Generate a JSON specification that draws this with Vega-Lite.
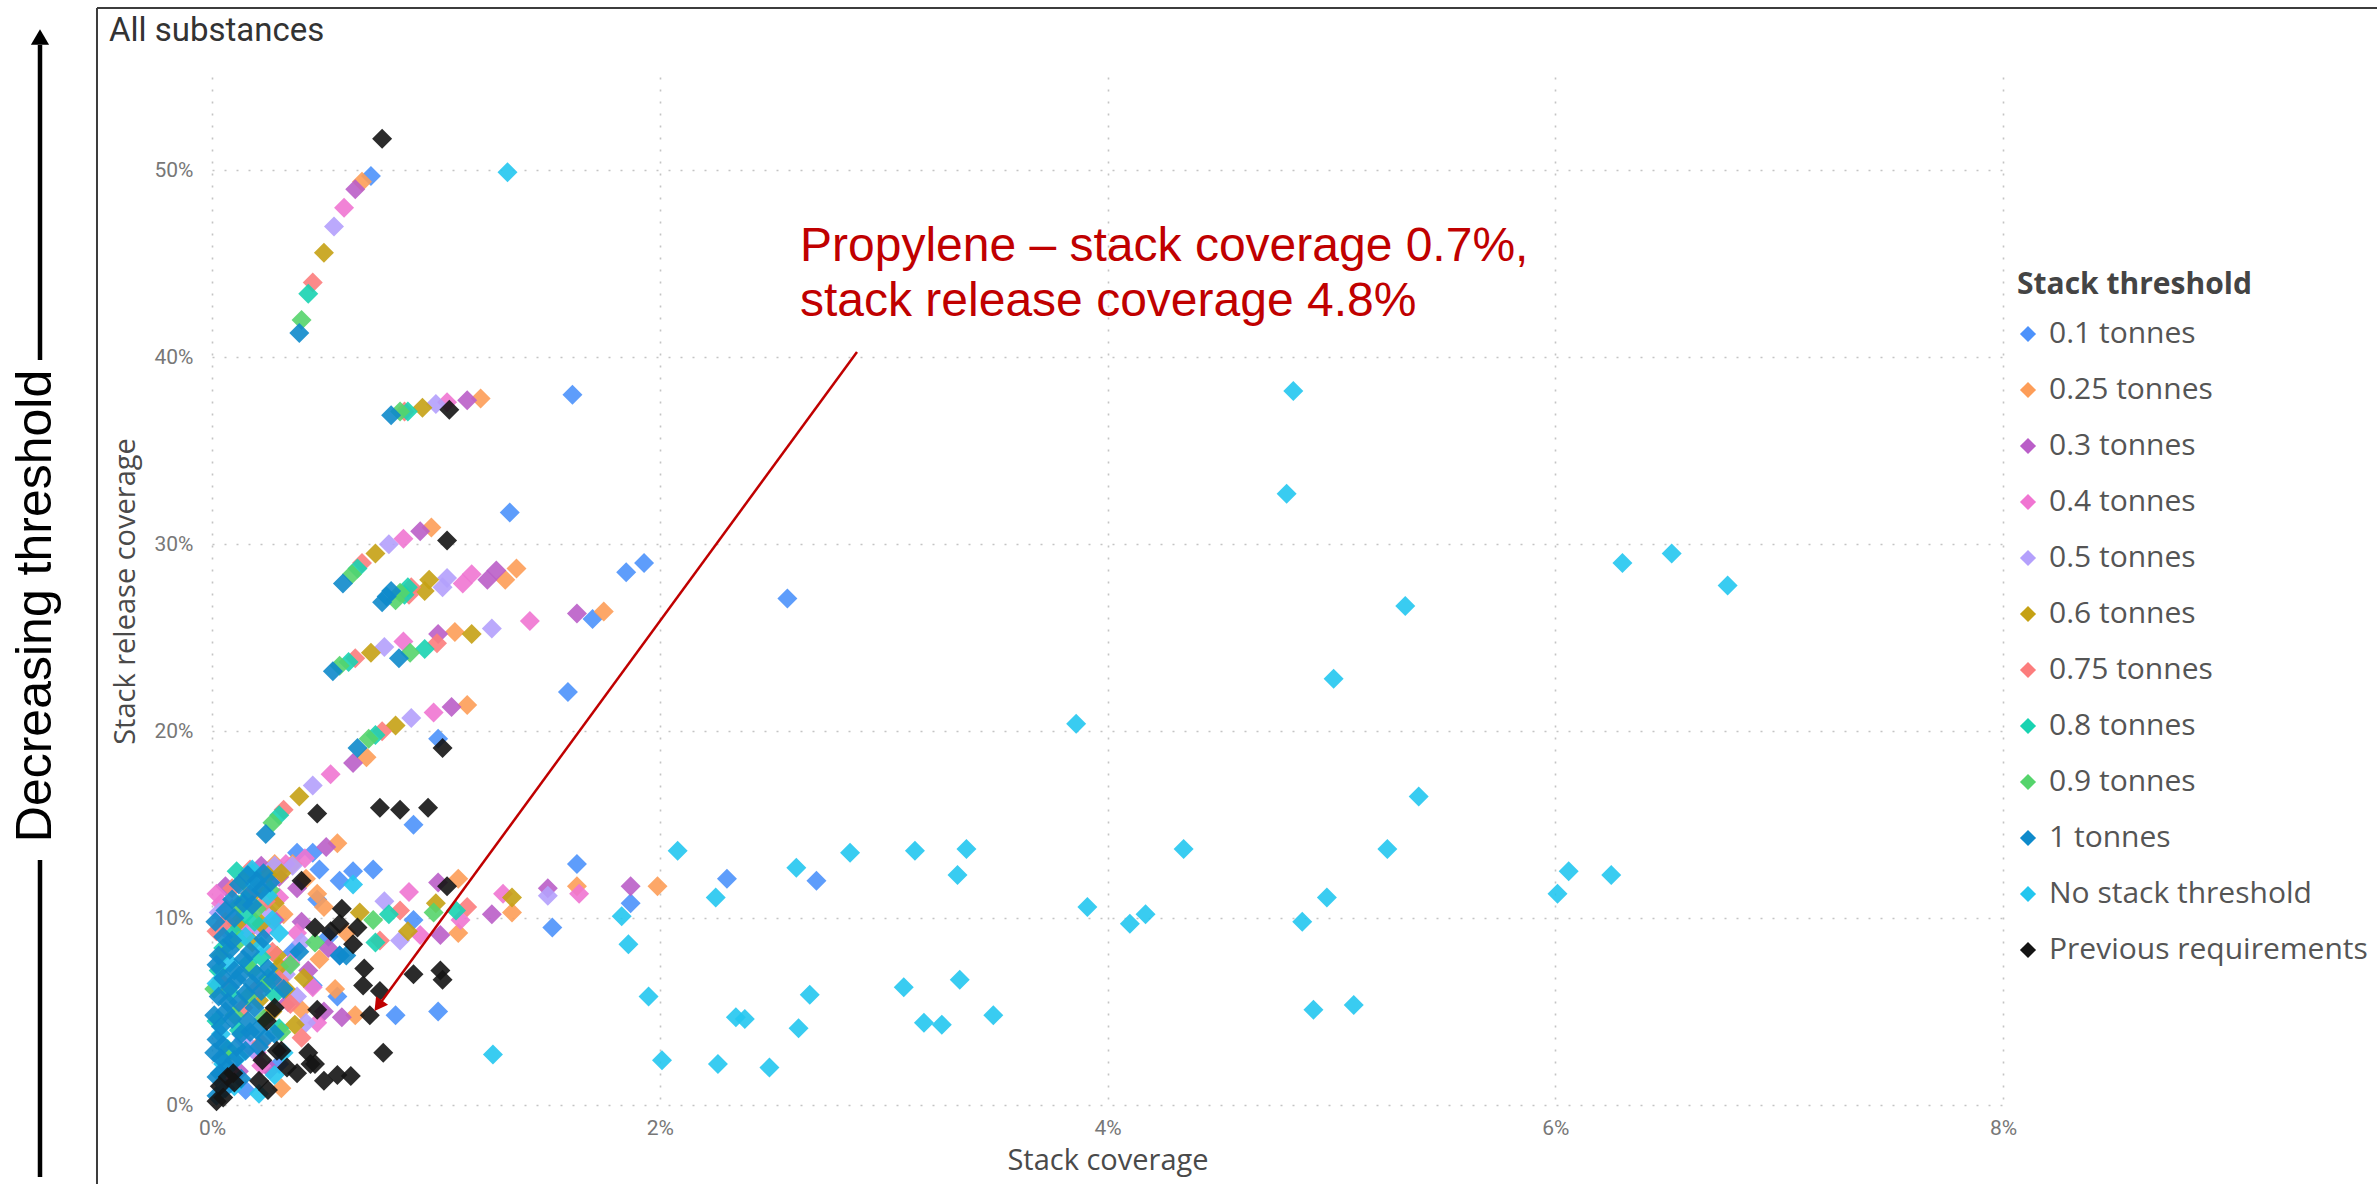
{
  "$schema": "https://vega.github.io/schema/vega-lite/v6.json",
  "autosize": {"type": "none"},
  "width": 1791,
  "height": 1028,
  "padding": {"left": 212, "top": 77, "right": 374, "bottom": 79},
  "background": "white",
  "config": {
    "view": {"stroke": null},
    "font": "Open Sans"
  },
  "datasets": {
    "frame": [
      {"x": -0.5137, "y": 58.69, "x2": 9.773, "y2": 58.69},
      {"x": -0.5137, "y": 58.69, "x2": -0.5137, "y2": -4.815}
    ],
    "leftArrow": [
      {"x": -0.7683, "y": 56.71, "x2": -0.7683, "y2": 39.86},
      {"x": -0.7683, "y": 13.11, "x2": -0.7683, "y2": -3.85}
    ],
    "pts": [
      {"s":"0.1 tonnes","x":0.71,"y":49.7},{"s":"0.1 tonnes","x":1.61,"y":38.0},{"s":"0.1 tonnes","x":1.33,"y":31.7},{"s":"0.1 tonnes","x":1.85,"y":28.5},{"s":"0.1 tonnes","x":1.93,"y":29.0},{"s":"0.1 tonnes","x":2.57,"y":27.1},{"s":"0.1 tonnes","x":1.70,"y":26.0},{"s":"0.1 tonnes","x":1.59,"y":22.1},{"s":"0.1 tonnes","x":1.01,"y":19.6},{"s":"0.1 tonnes","x":0.90,"y":15.0},{"s":"0.1 tonnes","x":0.45,"y":13.5},{"s":"0.1 tonnes","x":0.48,"y":12.6},{"s":"0.1 tonnes","x":0.63,"y":12.5},{"s":"0.1 tonnes","x":0.72,"y":12.6},{"s":"0.1 tonnes","x":0.57,"y":12.0},{"s":"0.1 tonnes","x":1.63,"y":12.9},{"s":"0.1 tonnes","x":1.87,"y":10.8},{"s":"0.1 tonnes","x":1.52,"y":9.5},{"s":"0.1 tonnes","x":0.90,"y":9.9},{"s":"0.1 tonnes","x":2.30,"y":12.1},{"s":"0.1 tonnes","x":2.70,"y":12.0},{"s":"0.1 tonnes","x":0.45,"y":6.4},{"s":"0.1 tonnes","x":0.56,"y":5.8},{"s":"0.1 tonnes","x":0.82,"y":4.8},{"s":"0.1 tonnes","x":1.01,"y":5.0},{"s":"0.1 tonnes","x":0.57,"y":8.0},{"s":"0.1 tonnes","x":0.36,"y":8.2},{"s":"0.1 tonnes","x":0.30,"y":2.2},{"s":"0.1 tonnes","x":0.47,"y":11.0},{"s":"0.1 tonnes","x":0.52,"y":9.0},{"s":"0.1 tonnes","x":0.15,"y":0.8},{"s":"0.1 tonnes","x":0.38,"y":13.5},
      {"s":"0.25 tonnes","x":0.67,"y":49.4},{"s":"0.25 tonnes","x":1.20,"y":37.8},{"s":"0.25 tonnes","x":0.98,"y":30.9},{"s":"0.25 tonnes","x":1.36,"y":28.7},{"s":"0.25 tonnes","x":1.31,"y":28.1},{"s":"0.25 tonnes","x":1.085,"y":25.3},{"s":"0.25 tonnes","x":1.75,"y":26.4},{"s":"0.25 tonnes","x":1.14,"y":21.4},{"s":"0.25 tonnes","x":0.69,"y":18.6},{"s":"0.25 tonnes","x":0.56,"y":14.0},{"s":"0.25 tonnes","x":1.10,"y":12.1},{"s":"0.25 tonnes","x":1.63,"y":11.7},{"s":"0.25 tonnes","x":1.99,"y":11.7},{"s":"0.25 tonnes","x":1.34,"y":10.3},{"s":"0.25 tonnes","x":1.10,"y":9.2},{"s":"0.25 tonnes","x":0.64,"y":4.8},{"s":"0.25 tonnes","x":0.32,"y":10.2},{"s":"0.25 tonnes","x":0.42,"y":12.1},{"s":"0.25 tonnes","x":0.48,"y":7.8},{"s":"0.25 tonnes","x":0.40,"y":5.1},{"s":"0.25 tonnes","x":0.55,"y":6.2},{"s":"0.25 tonnes","x":0.36,"y":12.9},{"s":"0.25 tonnes","x":0.60,"y":9.2},{"s":"0.25 tonnes","x":0.47,"y":11.3},{"s":"0.25 tonnes","x":0.28,"y":12.9},{"s":"0.25 tonnes","x":0.50,"y":10.6},{"s":"0.25 tonnes","x":0.31,"y":0.9},
      {"s":"0.3 tonnes","x":0.64,"y":49.0},{"s":"0.3 tonnes","x":1.14,"y":37.7},{"s":"0.3 tonnes","x":0.93,"y":30.7},{"s":"0.3 tonnes","x":1.27,"y":28.6},{"s":"0.3 tonnes","x":1.23,"y":28.1},{"s":"0.3 tonnes","x":1.01,"y":25.2},{"s":"0.3 tonnes","x":1.63,"y":26.3},{"s":"0.3 tonnes","x":1.07,"y":21.3},{"s":"0.3 tonnes","x":0.63,"y":18.3},{"s":"0.3 tonnes","x":0.51,"y":13.8},{"s":"0.3 tonnes","x":1.01,"y":11.9},{"s":"0.3 tonnes","x":1.50,"y":11.6},{"s":"0.3 tonnes","x":1.87,"y":11.7},{"s":"0.3 tonnes","x":1.25,"y":10.2},{"s":"0.3 tonnes","x":1.02,"y":9.1},{"s":"0.3 tonnes","x":0.52,"y":8.4},{"s":"0.3 tonnes","x":0.58,"y":4.7},{"s":"0.3 tonnes","x":0.34,"y":5.5},{"s":"0.3 tonnes","x":0.28,"y":9.9},{"s":"0.3 tonnes","x":0.38,"y":11.6},{"s":"0.3 tonnes","x":0.12,"y":1.8},{"s":"0.3 tonnes","x":0.43,"y":7.2},{"s":"0.3 tonnes","x":0.50,"y":5.0},{"s":"0.3 tonnes","x":0.06,"y":11.7},{"s":"0.3 tonnes","x":0.30,"y":12.2},{"s":"0.3 tonnes","x":0.22,"y":12.8},{"s":"0.3 tonnes","x":0.40,"y":9.8},{"s":"0.3 tonnes","x":0.26,"y":1.9},
      {"s":"0.4 tonnes","x":0.59,"y":48.0},{"s":"0.4 tonnes","x":1.05,"y":37.6},{"s":"0.4 tonnes","x":0.855,"y":30.3},{"s":"0.4 tonnes","x":1.16,"y":28.4},{"s":"0.4 tonnes","x":1.12,"y":27.9},{"s":"0.4 tonnes","x":0.855,"y":24.8},{"s":"0.4 tonnes","x":1.42,"y":25.9},{"s":"0.4 tonnes","x":0.99,"y":21.0},{"s":"0.4 tonnes","x":0.53,"y":17.7},{"s":"0.4 tonnes","x":0.415,"y":13.2},{"s":"0.4 tonnes","x":0.88,"y":11.4},{"s":"0.4 tonnes","x":1.30,"y":11.3},{"s":"0.4 tonnes","x":1.64,"y":11.3},{"s":"0.4 tonnes","x":1.11,"y":9.9},{"s":"0.4 tonnes","x":0.93,"y":9.1},{"s":"0.4 tonnes","x":0.24,"y":9.4},{"s":"0.4 tonnes","x":0.35,"y":7.6},{"s":"0.4 tonnes","x":0.47,"y":4.4},{"s":"0.4 tonnes","x":0.20,"y":2.8},{"s":"0.4 tonnes","x":0.04,"y":10.8},{"s":"0.4 tonnes","x":0.30,"y":11.1},{"s":"0.4 tonnes","x":0.26,"y":4.9},{"s":"0.4 tonnes","x":0.33,"y":12.9},{"s":"0.4 tonnes","x":0.45,"y":6.3},{"s":"0.4 tonnes","x":0.12,"y":9.6},{"s":"0.4 tonnes","x":0.08,"y":1.2},{"s":"0.4 tonnes","x":0.27,"y":12.0},{"s":"0.4 tonnes","x":0.02,"y":11.3},{"s":"0.4 tonnes","x":0.16,"y":9.3},{"s":"0.4 tonnes","x":0.38,"y":9.2},{"s":"0.4 tonnes","x":0.22,"y":2.1},
      {"s":"0.5 tonnes","x":0.545,"y":47.0},{"s":"0.5 tonnes","x":1.0,"y":37.5},{"s":"0.5 tonnes","x":0.79,"y":30.0},{"s":"0.5 tonnes","x":1.05,"y":28.2},{"s":"0.5 tonnes","x":1.03,"y":27.7},{"s":"0.5 tonnes","x":0.77,"y":24.5},{"s":"0.5 tonnes","x":1.25,"y":25.5},{"s":"0.5 tonnes","x":0.89,"y":20.7},{"s":"0.5 tonnes","x":0.45,"y":17.1},{"s":"0.5 tonnes","x":0.36,"y":12.8},{"s":"0.5 tonnes","x":1.50,"y":11.2},{"s":"0.5 tonnes","x":0.77,"y":10.9},{"s":"0.5 tonnes","x":0.84,"y":8.8},{"s":"0.5 tonnes","x":0.06,"y":9.4},{"s":"0.5 tonnes","x":0.21,"y":9.5},{"s":"0.5 tonnes","x":0.42,"y":4.4},{"s":"0.5 tonnes","x":0.14,"y":3.5},{"s":"0.5 tonnes","x":0.25,"y":10.4},{"s":"0.5 tonnes","x":0.33,"y":7.0},{"s":"0.5 tonnes","x":0.28,"y":12.8},{"s":"0.5 tonnes","x":0.03,"y":10.3},{"s":"0.5 tonnes","x":0.38,"y":5.8},{"s":"0.5 tonnes","x":0.23,"y":11.7},{"s":"0.5 tonnes","x":0.09,"y":10.5},{"s":"0.5 tonnes","x":0.18,"y":3.0},{"s":"0.5 tonnes","x":0.40,"y":8.7},
      {"s":"0.6 tonnes","x":0.50,"y":45.6},{"s":"0.6 tonnes","x":0.94,"y":37.3},{"s":"0.6 tonnes","x":0.73,"y":29.5},{"s":"0.6 tonnes","x":0.97,"y":28.1},{"s":"0.6 tonnes","x":0.95,"y":27.5},{"s":"0.6 tonnes","x":0.71,"y":24.2},{"s":"0.6 tonnes","x":1.16,"y":25.2},{"s":"0.6 tonnes","x":0.82,"y":20.3},{"s":"0.6 tonnes","x":0.39,"y":16.5},{"s":"0.6 tonnes","x":0.31,"y":12.4},{"s":"0.6 tonnes","x":1.34,"y":11.1},{"s":"0.6 tonnes","x":1.0,"y":10.8},{"s":"0.6 tonnes","x":0.66,"y":10.3},{"s":"0.6 tonnes","x":0.875,"y":9.3},{"s":"0.6 tonnes","x":0.18,"y":8.7},{"s":"0.6 tonnes","x":0.29,"y":8.0},{"s":"0.6 tonnes","x":0.30,"y":7.4},{"s":"0.6 tonnes","x":0.37,"y":4.3},{"s":"0.6 tonnes","x":0.22,"y":9.7},{"s":"0.6 tonnes","x":0.25,"y":12.3},{"s":"0.6 tonnes","x":0.33,"y":6.2},{"s":"0.6 tonnes","x":0.21,"y":5.6},{"s":"0.6 tonnes","x":0.28,"y":10.8},{"s":"0.6 tonnes","x":0.20,"y":11.5},{"s":"0.6 tonnes","x":0.11,"y":9.7},{"s":"0.6 tonnes","x":0.27,"y":5.0},{"s":"0.6 tonnes","x":0.41,"y":6.8},
      {"s":"0.75 tonnes","x":0.45,"y":44.0},{"s":"0.75 tonnes","x":0.86,"y":37.1},{"s":"0.75 tonnes","x":0.67,"y":29.0},{"s":"0.75 tonnes","x":0.89,"y":27.7},{"s":"0.75 tonnes","x":0.88,"y":27.3},{"s":"0.75 tonnes","x":0.64,"y":23.9},{"s":"0.75 tonnes","x":1.005,"y":24.7},{"s":"0.75 tonnes","x":0.76,"y":20.0},{"s":"0.75 tonnes","x":0.32,"y":15.8},{"s":"0.75 tonnes","x":1.14,"y":10.6},{"s":"0.75 tonnes","x":0.84,"y":10.4},{"s":"0.75 tonnes","x":0.75,"y":8.8},{"s":"0.75 tonnes","x":0.02,"y":9.3},{"s":"0.75 tonnes","x":0.06,"y":9.8},{"s":"0.75 tonnes","x":0.27,"y":8.2},{"s":"0.75 tonnes","x":0.30,"y":6.7},{"s":"0.75 tonnes","x":0.14,"y":5.2},{"s":"0.75 tonnes","x":0.22,"y":3.3},{"s":"0.75 tonnes","x":0.17,"y":12.6},{"s":"0.75 tonnes","x":0.09,"y":11.6},{"s":"0.75 tonnes","x":0.35,"y":5.4},{"s":"0.75 tonnes","x":0.40,"y":3.6},{"s":"0.75 tonnes","x":0.17,"y":11.3},{"s":"0.75 tonnes","x":0.04,"y":6.6},{"s":"0.75 tonnes","x":0.19,"y":6.1},{"s":"0.75 tonnes","x":0.24,"y":10.9},
      {"s":"0.8 tonnes","x":0.43,"y":43.4},{"s":"0.8 tonnes","x":0.875,"y":37.1},{"s":"0.8 tonnes","x":0.65,"y":28.7},{"s":"0.8 tonnes","x":0.875,"y":27.7},{"s":"0.8 tonnes","x":0.86,"y":27.3},{"s":"0.8 tonnes","x":0.61,"y":23.7},{"s":"0.8 tonnes","x":0.95,"y":24.4},{"s":"0.8 tonnes","x":0.73,"y":19.8},{"s":"0.8 tonnes","x":0.30,"y":15.5},{"s":"0.8 tonnes","x":1.09,"y":10.4},{"s":"0.8 tonnes","x":0.79,"y":10.2},{"s":"0.8 tonnes","x":0.73,"y":8.7},{"s":"0.8 tonnes","x":0.05,"y":8.4},{"s":"0.8 tonnes","x":0.10,"y":9.2},{"s":"0.8 tonnes","x":0.16,"y":7.6},{"s":"0.8 tonnes","x":0.22,"y":7.9},{"s":"0.8 tonnes","x":0.25,"y":6.8},{"s":"0.8 tonnes","x":0.08,"y":6.0},{"s":"0.8 tonnes","x":0.03,"y":7.2},{"s":"0.8 tonnes","x":0.12,"y":4.0},{"s":"0.8 tonnes","x":0.30,"y":4.1},{"s":"0.8 tonnes","x":0.18,"y":12.4},{"s":"0.8 tonnes","x":0.15,"y":10.2},{"s":"0.8 tonnes","x":0.07,"y":3.0},{"s":"0.8 tonnes","x":0.15,"y":11.0},{"s":"0.8 tonnes","x":0.02,"y":4.5},{"s":"0.8 tonnes","x":0.19,"y":9.8},{"s":"0.8 tonnes","x":0.28,"y":5.9},{"s":"0.8 tonnes","x":0.11,"y":12.5},
      {"s":"0.9 tonnes","x":0.40,"y":42.0},{"s":"0.9 tonnes","x":0.84,"y":37.1},{"s":"0.9 tonnes","x":0.625,"y":28.4},{"s":"0.9 tonnes","x":0.84,"y":27.4},{"s":"0.9 tonnes","x":0.82,"y":27.0},{"s":"0.9 tonnes","x":0.57,"y":23.5},{"s":"0.9 tonnes","x":0.885,"y":24.2},{"s":"0.9 tonnes","x":0.70,"y":19.6},{"s":"0.9 tonnes","x":0.27,"y":15.1},{"s":"0.9 tonnes","x":0.99,"y":10.3},{"s":"0.9 tonnes","x":0.72,"y":9.9},{"s":"0.9 tonnes","x":0.46,"y":8.7},{"s":"0.9 tonnes","x":0.04,"y":8.0},{"s":"0.9 tonnes","x":0.12,"y":8.8},{"s":"0.9 tonnes","x":0.18,"y":7.2},{"s":"0.9 tonnes","x":0.24,"y":6.5},{"s":"0.9 tonnes","x":0.31,"y":3.9},{"s":"0.9 tonnes","x":0.10,"y":4.8},{"s":"0.9 tonnes","x":0.06,"y":2.6},{"s":"0.9 tonnes","x":0.14,"y":12.0},{"s":"0.9 tonnes","x":0.20,"y":10.5},{"s":"0.9 tonnes","x":0.35,"y":7.5},{"s":"0.9 tonnes","x":0.12,"y":10.7},{"s":"0.9 tonnes","x":0.01,"y":6.2},{"s":"0.9 tonnes","x":0.16,"y":5.8},{"s":"0.9 tonnes","x":0.23,"y":4.6},{"s":"0.9 tonnes","x":0.26,"y":11.5},
      {"s":"No stack threshold","x":0.30,"y":9.2},{"s":"No stack threshold","x":0.25,"y":11.2},{"s":"No stack threshold","x":0.19,"y":11.8},{"s":"No stack threshold","x":0.05,"y":2.2},{"s":"No stack threshold","x":0.10,"y":1.0},{"s":"No stack threshold","x":0.28,"y":1.6},{"s":"No stack threshold","x":0.02,"y":6.5},{"s":"No stack threshold","x":0.15,"y":9.0},{"s":"No stack threshold","x":0.22,"y":8.5},{"s":"No stack threshold","x":0.04,"y":3.8},{"s":"No stack threshold","x":0.08,"y":7.6},{"s":"No stack threshold","x":0.18,"y":12.6},{"s":"No stack threshold","x":0.12,"y":2.6},{"s":"No stack threshold","x":0.27,"y":9.9},{"s":"No stack threshold","x":0.32,"y":2.8},{"s":"No stack threshold","x":0.21,"y":0.6},
      {"s":"1 tonnes","x":0.39,"y":41.3},{"s":"1 tonnes","x":0.80,"y":36.9},{"s":"1 tonnes","x":0.585,"y":27.9},{"s":"1 tonnes","x":0.76,"y":26.9},{"s":"1 tonnes","x":0.78,"y":27.2},{"s":"1 tonnes","x":0.80,"y":27.5},{"s":"1 tonnes","x":0.54,"y":23.2},{"s":"1 tonnes","x":0.835,"y":23.9},{"s":"1 tonnes","x":0.65,"y":19.1},{"s":"1 tonnes","x":0.24,"y":14.5},{"s":"1 tonnes","x":0.57,"y":8.0},{"s":"1 tonnes","x":0.60,"y":8.0},{"s":"1 tonnes","x":0.39,"y":8.2},
      {"s":"1 tonnes","x":0.02,"y":3.5},{"s":"1 tonnes","x":0.04,"y":4.2},{"s":"1 tonnes","x":0.06,"y":5.0},{"s":"1 tonnes","x":0.03,"y":5.8},{"s":"1 tonnes","x":0.08,"y":6.3},{"s":"1 tonnes","x":0.05,"y":6.8},{"s":"1 tonnes","x":0.10,"y":7.2},{"s":"1 tonnes","x":0.02,"y":7.5},{"s":"1 tonnes","x":0.12,"y":5.5},{"s":"1 tonnes","x":0.15,"y":6.0},{"s":"1 tonnes","x":0.09,"y":4.6},{"s":"1 tonnes","x":0.13,"y":3.8},{"s":"1 tonnes","x":0.17,"y":3.9},{"s":"1 tonnes","x":0.11,"y":3.1},{"s":"1 tonnes","x":0.04,"y":2.5},{"s":"1 tonnes","x":0.07,"y":2.0},{"s":"1 tonnes","x":0.02,"y":1.5},{"s":"1 tonnes","x":0.035,"y":1.7},{"s":"1 tonnes","x":0.06,"y":0.9},{"s":"1 tonnes","x":0.02,"y":0.5},{"s":"1 tonnes","x":0.18,"y":6.5},{"s":"1 tonnes","x":0.20,"y":7.0},{"s":"1 tonnes","x":0.22,"y":6.1},{"s":"1 tonnes","x":0.25,"y":7.3},{"s":"1 tonnes","x":0.14,"y":7.8},{"s":"1 tonnes","x":0.08,"y":8.3},{"s":"1 tonnes","x":0.05,"y":9.0},{"s":"1 tonnes","x":0.03,"y":8.0},{"s":"1 tonnes","x":0.16,"y":4.5},{"s":"1 tonnes","x":0.20,"y":4.0},{"s":"1 tonnes","x":0.24,"y":3.6},{"s":"1 tonnes","x":0.28,"y":3.8},{"s":"1 tonnes","x":0.19,"y":5.2},{"s":"1 tonnes","x":0.10,"y":10.0},{"s":"1 tonnes","x":0.14,"y":10.8},{"s":"1 tonnes","x":0.17,"y":11.3},{"s":"1 tonnes","x":0.12,"y":11.8},{"s":"1 tonnes","x":0.20,"y":12.0},{"s":"1 tonnes","x":0.16,"y":12.3},{"s":"1 tonnes","x":0.09,"y":11.0},{"s":"1 tonnes","x":0.22,"y":11.5},
      {"s":"1 tonnes","x":0.01,"y":4.8},{"s":"1 tonnes","x":0.07,"y":5.5},{"s":"1 tonnes","x":0.11,"y":6.7},{"s":"1 tonnes","x":0.13,"y":7.0},{"s":"1 tonnes","x":0.09,"y":8.8},{"s":"1 tonnes","x":0.015,"y":9.8},{"s":"1 tonnes","x":0.06,"y":10.4},{"s":"1 tonnes","x":0.18,"y":10.7},{"s":"1 tonnes","x":0.23,"y":12.4},{"s":"1 tonnes","x":0.26,"y":11.9},{"s":"1 tonnes","x":0.05,"y":3.2},{"s":"1 tonnes","x":0.10,"y":2.4},{"s":"1 tonnes","x":0.15,"y":2.9},{"s":"1 tonnes","x":0.21,"y":3.1},{"s":"1 tonnes","x":0.27,"y":6.7},{"s":"1 tonnes","x":0.32,"y":6.2},{"s":"1 tonnes","x":0.17,"y":8.2},{"s":"1 tonnes","x":0.23,"y":8.9},{"s":"1 tonnes","x":0.01,"y":2.8},{"s":"1 tonnes","x":0.13,"y":1.4},
      {"s":"No stack threshold","x":1.32,"y":49.9},{"s":"No stack threshold","x":4.83,"y":38.2},{"s":"No stack threshold","x":4.80,"y":32.7},{"s":"No stack threshold","x":6.30,"y":29.0},{"s":"No stack threshold","x":6.52,"y":29.5},{"s":"No stack threshold","x":6.77,"y":27.8},{"s":"No stack threshold","x":5.33,"y":26.7},{"s":"No stack threshold","x":5.01,"y":22.8},{"s":"No stack threshold","x":3.86,"y":20.4},{"s":"No stack threshold","x":5.39,"y":16.5},{"s":"No stack threshold","x":2.08,"y":13.6},{"s":"No stack threshold","x":2.25,"y":11.1},{"s":"No stack threshold","x":2.61,"y":12.7},{"s":"No stack threshold","x":2.85,"y":13.5},{"s":"No stack threshold","x":3.14,"y":13.6},{"s":"No stack threshold","x":3.37,"y":13.7},{"s":"No stack threshold","x":3.33,"y":12.3},{"s":"No stack threshold","x":4.34,"y":13.7},{"s":"No stack threshold","x":5.25,"y":13.7},{"s":"No stack threshold","x":3.91,"y":10.6},{"s":"No stack threshold","x":4.10,"y":9.7},{"s":"No stack threshold","x":4.17,"y":10.2},{"s":"No stack threshold","x":4.87,"y":9.8},{"s":"No stack threshold","x":4.98,"y":11.1},{"s":"No stack threshold","x":3.09,"y":6.3},{"s":"No stack threshold","x":3.34,"y":6.7},{"s":"No stack threshold","x":3.18,"y":4.4},{"s":"No stack threshold","x":3.26,"y":4.3},{"s":"No stack threshold","x":3.49,"y":4.8},{"s":"No stack threshold","x":4.92,"y":5.1},{"s":"No stack threshold","x":5.10,"y":5.35},{"s":"No stack threshold","x":1.95,"y":5.8},{"s":"No stack threshold","x":2.01,"y":2.4},{"s":"No stack threshold","x":2.26,"y":2.2},{"s":"No stack threshold","x":2.49,"y":2.0},{"s":"No stack threshold","x":2.34,"y":4.7},{"s":"No stack threshold","x":2.38,"y":4.6},{"s":"No stack threshold","x":2.62,"y":4.1},{"s":"No stack threshold","x":2.67,"y":5.9},{"s":"No stack threshold","x":6.01,"y":11.3},{"s":"No stack threshold","x":6.06,"y":12.5},{"s":"No stack threshold","x":6.25,"y":12.3},{"s":"No stack threshold","x":1.83,"y":10.1},{"s":"No stack threshold","x":1.86,"y":8.6},{"s":"No stack threshold","x":1.255,"y":2.7},{"s":"No stack threshold","x":0.63,"y":11.8},
      {"s":"Previous requirements","x":0.76,"y":51.7},{"s":"Previous requirements","x":1.06,"y":37.2},{"s":"Previous requirements","x":1.05,"y":30.2},{"s":"Previous requirements","x":1.03,"y":19.1},{"s":"Previous requirements","x":0.47,"y":15.6},{"s":"Previous requirements","x":0.75,"y":15.9},{"s":"Previous requirements","x":0.84,"y":15.8},{"s":"Previous requirements","x":0.965,"y":15.9},{"s":"Previous requirements","x":0.40,"y":12.0},{"s":"Previous requirements","x":1.05,"y":11.7},{"s":"Previous requirements","x":0.58,"y":10.5},{"s":"Previous requirements","x":0.46,"y":9.5},{"s":"Previous requirements","x":0.57,"y":9.7},{"s":"Previous requirements","x":0.65,"y":9.5},{"s":"Previous requirements","x":0.53,"y":9.3},{"s":"Previous requirements","x":0.63,"y":8.6},{"s":"Previous requirements","x":0.68,"y":7.3},{"s":"Previous requirements","x":0.675,"y":6.4},{"s":"Previous requirements","x":0.90,"y":7.0},{"s":"Previous requirements","x":1.02,"y":7.2},{"s":"Previous requirements","x":1.03,"y":6.7},{"s":"Previous requirements","x":0.75,"y":6.1},{"s":"Previous requirements","x":0.47,"y":5.1},{"s":"Previous requirements","x":0.28,"y":5.2},{"s":"Previous requirements","x":0.245,"y":4.5},{"s":"Previous requirements","x":0.705,"y":4.8},{"s":"Previous requirements","x":0.765,"y":2.8},{"s":"Previous requirements","x":0.31,"y":2.9},{"s":"Previous requirements","x":0.43,"y":2.8},{"s":"Previous requirements","x":0.46,"y":2.2},{"s":"Previous requirements","x":0.335,"y":2.0},{"s":"Previous requirements","x":0.38,"y":1.7},{"s":"Previous requirements","x":0.50,"y":1.3},{"s":"Previous requirements","x":0.56,"y":1.6},{"s":"Previous requirements","x":0.62,"y":1.55},{"s":"Previous requirements","x":0.21,"y":1.3},{"s":"Previous requirements","x":0.25,"y":0.8},{"s":"Previous requirements","x":0.225,"y":2.4},{"s":"Previous requirements","x":0.07,"y":1.5},{"s":"Previous requirements","x":0.095,"y":1.7},{"s":"Previous requirements","x":0.05,"y":0.4},{"s":"Previous requirements","x":0.035,"y":1.0},{"s":"Previous requirements","x":0.29,"y":2.9},{"s":"Previous requirements","x":0.44,"y":2.2},{"s":"Previous requirements","x":0.02,"y":0.2},{"s":"Previous requirements","x":0.10,"y":1.2}
    ]
  },
  "layer": [
    {
      "data": {"name": "pts"},
      "mark": {"type": "point", "shape": "diamond", "filled": true, "size": 400, "opacity": 0.9},
      "encoding": {
        "x": {
          "field": "x", "type": "quantitative",
          "scale": {"domain": [0, 8], "nice": false, "zero": false},
          "axis": {
            "title": "Stack coverage", "values": [0, 2, 4, 6, 8], "labelExpr": "datum.value + '%'",
            "grid": true, "gridDash": [2, 10], "gridColor": "#c4c4c4", "gridWidth": 1.6,
            "domain": false, "ticks": false, "labelFlush": false, "labelOverlap": false,
            "labelFont": "Roboto", "labelFontSize": 21, "labelColor": "#777777", "labelPadding": 12,
            "titleFont": "Open Sans", "titleFontSize": 29, "titleColor": "#4a4a4a", "titleFontWeight": "normal", "titlePadding": 8
          }
        },
        "y": {
          "field": "y", "type": "quantitative",
          "scale": {"domain": [0, 55], "nice": false, "zero": false},
          "axis": {
            "title": "Stack release coverage", "values": [0, 10, 20, 30, 40, 50], "labelExpr": "datum.value + '%'",
            "grid": true, "gridDash": [2, 10], "gridColor": "#c4c4c4", "gridWidth": 1.6,
            "domain": false, "ticks": false, "labelFlush": false, "labelOverlap": false,
            "labelFont": "Roboto", "labelFontSize": 21, "labelColor": "#777777", "labelPadding": 19,
            "titleFont": "Open Sans", "titleFontSize": 29, "titleColor": "#4a4a4a", "titleFontWeight": "normal", "titlePadding": 14
          }
        },
        "color": {
          "field": "s", "type": "nominal",
          "scale": {
            "domain": ["0.1 tonnes", "0.25 tonnes", "0.3 tonnes", "0.4 tonnes", "0.5 tonnes", "0.6 tonnes", "0.75 tonnes", "0.8 tonnes", "0.9 tonnes", "1 tonnes", "No stack threshold", "Previous requirements"],
            "range": ["#4D92FB", "#FD9D58", "#BA5EC8", "#F075D2", "#B4A0FC", "#C5A114", "#FC7D7D", "#18D3B1", "#55D46C", "#0E8ACB", "#23C6EF", "#141414"]
          },
          "legend": {
            "title": "Stack threshold", "orient": "none", "legendX": 1805, "legendY": 193,
            "titleFont": "Open Sans", "titleFontSize": 30, "titleFontWeight": "bold", "titleColor": "#444444", "titlePadding": 19, "titleLimit": 600,
            "labelFont": "Open Sans", "labelFontSize": 30, "labelColor": "#555555", "labelLimit": 600, "labelOffset": 6,
            "symbolType": "diamond", "symbolSize": 260, "symbolStrokeWidth": 0, "symbolOpacity": 1, "symbolOffset": -4, "rowPadding": 26
          }
        }
      }
    },
    {
      "data": {"name": "frame"},
      "mark": {"type": "rule", "color": "#3c3c3c", "strokeWidth": 2},
      "encoding": {
        "x": {"field": "x", "type": "quantitative"},
        "y": {"field": "y", "type": "quantitative"},
        "x2": {"field": "x2"},
        "y2": {"field": "y2"}
      }
    },
    {
      "data": {"name": "leftArrow"},
      "mark": {"type": "rule", "color": "black", "strokeWidth": 4.5},
      "encoding": {
        "x": {"field": "x", "type": "quantitative"},
        "y": {"field": "y", "type": "quantitative"},
        "x2": {"field": "x2"},
        "y2": {"field": "y2"}
      }
    },
    {
      "data": {"values": [{"x": -0.7683, "y": 57.14}]},
      "mark": {"type": "point", "shape": "triangle-up", "filled": true, "color": "black", "opacity": 1, "size": 330},
      "encoding": {
        "x": {"field": "x", "type": "quantitative"},
        "y": {"field": "y", "type": "quantitative"}
      }
    },
    {
      "data": {"values": [{"x": -0.7192, "y": 26.70, "label": "Decreasing threshold"}]},
      "mark": {"type": "text", "angle": 270, "align": "center", "baseline": "alphabetic", "font": "Liberation Sans", "fontSize": 50, "color": "black"},
      "encoding": {
        "x": {"field": "x", "type": "quantitative"},
        "y": {"field": "y", "type": "quantitative"},
        "text": {"field": "label"}
      }
    },
    {
      "data": {"values": [{"x": -0.4601, "y": 56.93, "label": "All substances"}]},
      "mark": {"type": "text", "align": "left", "baseline": "alphabetic", "font": "Roboto", "fontSize": 33, "color": "#333333"},
      "encoding": {
        "x": {"field": "x", "type": "quantitative"},
        "y": {"field": "y", "type": "quantitative"},
        "text": {"field": "label"}
      }
    },
    {
      "data": {"values": [{"x": 2.881, "y": 40.29, "x2": 0.7428, "y2": 5.313}]},
      "mark": {"type": "rule", "color": "#C00000", "strokeWidth": 2.5},
      "encoding": {
        "x": {"field": "x", "type": "quantitative"},
        "y": {"field": "y", "type": "quantitative"},
        "x2": {"field": "x2"},
        "y2": {"field": "y2"}
      }
    },
    {
      "data": {"values": [{"x": 0.7428, "y": 5.313}]},
      "mark": {"type": "point", "shape": "triangle-up", "filled": true, "color": "#C00000", "opacity": 1, "size": 220, "angle": 216},
      "encoding": {
        "x": {"field": "x", "type": "quantitative"},
        "y": {"field": "y", "type": "quantitative"}
      }
    },
    {
      "data": {"values": [{"x": 2.6265, "y": 45.155, "label": ["Propylene – stack coverage 0.7%,", "stack release coverage 4.8%"]}]},
      "mark": {"type": "text", "align": "left", "baseline": "alphabetic", "font": "Liberation Sans", "fontSize": 48, "lineHeight": 55, "color": "#C00000"},
      "encoding": {
        "x": {"field": "x", "type": "quantitative"},
        "y": {"field": "y", "type": "quantitative"},
        "text": {"field": "label"}
      }
    }
  ]
}
